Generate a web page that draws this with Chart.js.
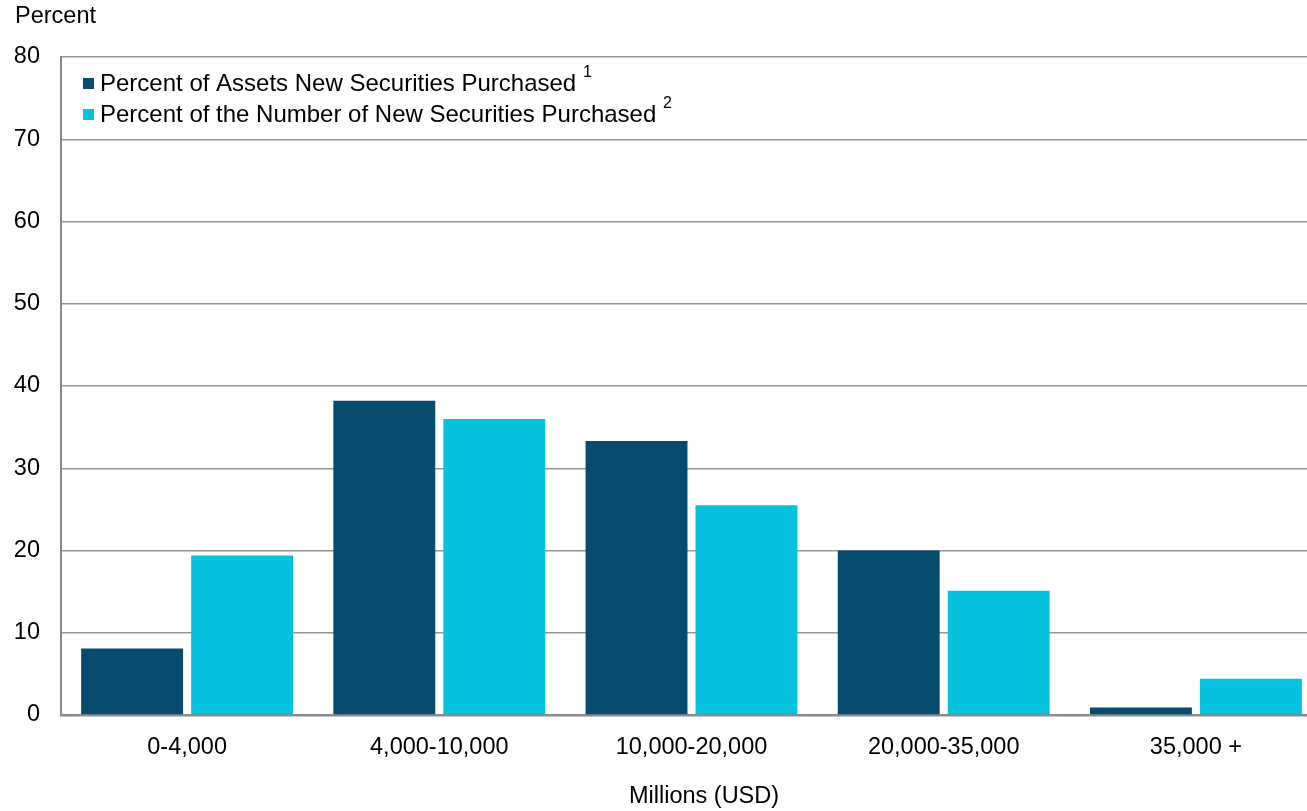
<!DOCTYPE html>
<html lang="en">
<head>
<meta charset="UTF-8">
<title>New Securities Purchased by Fund Size</title>
<script src="https://cdn.jsdelivr.net/npm/chart.js"></script>
<style>
  html, body { margin: 0; padding: 0; background: #fff; overflow: hidden; }
  /* plot runs a little past the right edge of the window */
  #wrap { width: 1322px; height: 811px; position: relative; }
</style>
</head>
<body>
<div id="wrap"><canvas id="chart"></canvas></div>
<script>
// fund size buckets (millions USD)
const sizeBuckets = ['0-4,000', '4,000-10,000', '10,000-20,000', '20,000-35,000', '35,000 +'];
// percent of assets in new securities purchased
const pctAssets = [8.1, 38.2, 33.3, 20.0, 0.9];
// percent of the number of new securities purchased
const pctCount = [19.4, 36.0, 25.5, 15.1, 4.4];
const seriesNames = ['Percent of Assets New Securities Purchased', 'Percent of the Number of New Securities Purchased'];
const seriesNotes = ['1', '2'];
const seriesColors = ['#074c6f', '#06c2df'];
const yMin = 0, yMax = 80, yStep = 10;
const yTitle = 'Percent';
const xTitle = 'Millions (USD)';

const FONT = "'Liberation Sans', Arial, sans-serif";
const FS = 23.5;

// legend drawn inside the plot, plus the two axis titles
const extras = {
  id: 'extras',
  afterDraw(chart) {
    const ctx = chart.ctx;
    const area = chart.chartArea;
    ctx.save();
    ctx.fillStyle = '#000';
    ctx.textBaseline = 'middle';
    ctx.font = FS + 'px ' + FONT;
    ctx.textAlign = 'left';
    ctx.fillText(yTitle, 15, 17);
    ctx.textAlign = 'center';
    ctx.fillText(xTitle, 704, 797);

    chart.data.datasets.forEach((ds, i) => {
      const y = area.top + 26 + i * 31;
      const x = area.left + 22;
      ctx.fillStyle = ds.backgroundColor;
      ctx.fillRect(x, y - 5, 11, 11);
      ctx.fillStyle = '#000';
      ctx.textAlign = 'left';
      ctx.font = '24px ' + FONT;
      ctx.fillText(ds.label, x + 17, y + 1);
      const w = ctx.measureText(ds.label + ' ').width;
      ctx.font = '16px ' + FONT;
      ctx.fillText(seriesNotes[i], x + 17 + w, y - 10);
    });
    ctx.restore();
  }
};

new Chart(document.getElementById('chart'), {
  type: 'bar',
  data: {
    labels: sizeBuckets,
    datasets: [
      { label: seriesNames[0], data: pctAssets, backgroundColor: seriesColors[0] },
      { label: seriesNames[1], data: pctCount, backgroundColor: seriesColors[1] }
    ]
  },
  options: {
    responsive: true,
    maintainAspectRatio: false,
    animation: false,
    events: [],
    categoryPercentage: 0.872,
    barPercentage: 0.927,
    layout: { padding: { top: 57, left: 0, right: 0, bottom: 0 } },
    plugins: {
      legend: { display: false },
      tooltip: { enabled: false }
    },
    scales: {
      x: {
        grid: { display: false, drawTicks: false },
        border: { display: true, color: '#8a8a8a', width: 2.5 },
        ticks: { color: '#000', font: { family: FONT, size: FS }, padding: 18 },
        afterFit(scale) { scale.height = 96; }
      },
      y: {
        min: yMin,
        max: yMax,
        grid: { color: '#959595', lineWidth: 1.5, drawTicks: false },
        border: { display: true, color: '#8a8a8a', width: 2 },
        ticks: { stepSize: yStep, color: '#000', font: { family: FONT, size: FS }, padding: 21 },
        afterFit(scale) { scale.width = 61; }
      }
    }
  },
  plugins: [extras]
});
</script>
</body>
</html>
